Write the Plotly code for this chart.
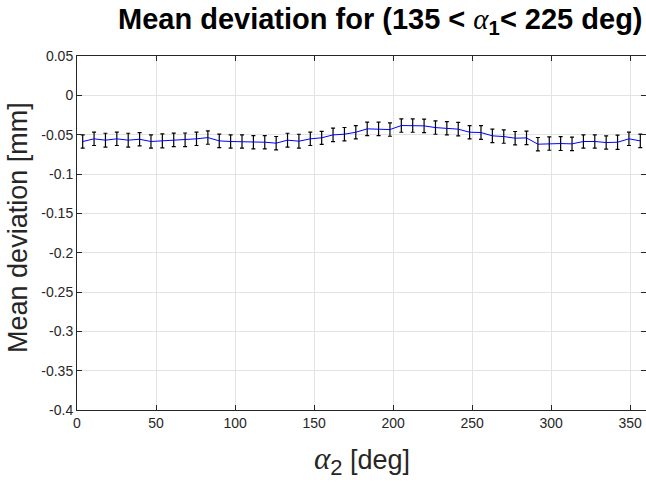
import plotly.graph_objects as go

# Bin centres of alpha_2 (deg), 7.2 deg bins
alpha2 = [3.6, 10.8, 18.0, 25.2, 32.4, 39.6, 46.8, 54.0, 61.2, 68.4,
          75.6, 82.8, 90.0, 97.2, 104.4, 111.6, 118.8, 126.0, 133.2, 140.4,
          147.6, 154.8, 162.0, 169.2, 176.4, 183.6, 190.8, 198.0, 205.2, 212.4,
          219.6, 226.8, 234.0, 241.2, 248.4, 255.6, 262.8, 270.0, 277.2, 284.4,
          291.6, 298.8, 306.0, 313.2, 320.4, 327.6, 334.8, 342.0, 349.2, 356.4]

# Mean deviation per bin (mm)
mean_dev = [-0.0587, -0.0553, -0.0570, -0.0553, -0.0570, -0.0558, -0.0587, -0.0579, -0.0566, -0.0566,
            -0.0553, -0.0537, -0.0579, -0.0587, -0.0587, -0.0596, -0.0596, -0.0608, -0.0570, -0.0583,
            -0.0553, -0.0540, -0.0503, -0.0494, -0.0469, -0.0426, -0.0426, -0.0435, -0.0384, -0.0384,
            -0.0388, -0.0410, -0.0418, -0.0430, -0.0469, -0.0473, -0.0515, -0.0524, -0.0545, -0.0541,
            -0.0621, -0.0613, -0.0613, -0.0617, -0.0587, -0.0587, -0.0600, -0.0596, -0.0553, -0.0579]

# Error bar half-length (mm)
err = [0.0085, 0.0085, 0.0088, 0.0085, 0.0088, 0.0085, 0.0085, 0.0088, 0.0085, 0.0087,
       0.0085, 0.0085, 0.0085, 0.0085, 0.0085, 0.0085, 0.0085, 0.0085, 0.0088, 0.0088,
       0.0085, 0.0083, 0.0085, 0.0085, 0.0085, 0.0085, 0.0085, 0.0085, 0.0085, 0.0085,
       0.0085, 0.0085, 0.0085, 0.0085, 0.0085, 0.0088, 0.0085, 0.0085, 0.0085, 0.0085,
       0.0085, 0.0085, 0.0088, 0.0085, 0.0085, 0.0085, 0.0085, 0.0090, 0.0085, 0.0085]

x_ticks = [0, 50, 100, 150, 200, 250, 300, 350]
y_ticks = [0.05, 0, -0.05, -0.1, -0.15, -0.2, -0.25, -0.3, -0.35, -0.4]
y_tick_text = ["0.05", "0", "-0.05", "-0.1", "-0.15", "-0.2", "-0.25", "-0.3", "-0.35", "-0.4"]

FONT = "Liberation Sans, Arial, sans-serif"
SERIF = "font-family:'Liberation Serif',serif"
AX = "#262626"

fig = go.Figure()
fig.add_trace(go.Scatter(
    x=alpha2, y=mean_dev, mode="lines",
    line=dict(color="#0000ff", width=1),
    error_y=dict(type="data", array=err, visible=True,
                 color="black", thickness=1.2, width=2),
    showlegend=False,
))

axis_common = dict(
    showline=True, linecolor=AX, linewidth=1, mirror="ticks",
    ticks="inside", ticklen=5, tickcolor=AX, tickwidth=1,
    showgrid=True, gridcolor="#e3e3e3", gridwidth=1,
    zeroline=False,
    tickfont=dict(family=FONT, size=14, color=AX),
)

fig.update_xaxes(range=[0, 360], tickvals=x_ticks,
                 ticktext=[str(v) for v in x_ticks], **axis_common)
fig.update_yaxes(range=[-0.4, 0.05], tickvals=y_ticks,
                 ticktext=y_tick_text, **axis_common)

fig.update_layout(
    width=646, height=486,
    margin=dict(l=77, r=0, t=56, b=76),
    plot_bgcolor="white", paper_bgcolor="white",
    font=dict(family=FONT, color="black"),
    title=dict(
        text=("<b>Mean deviation for (135 &lt; </b>"
              f"<span style=\"{SERIF}\"><i>α</i></span>"
              "<b><sub>1</sub>&lt; 225 deg)</b>"),
        font=dict(family=FONT, size=29, color="black"),
        x=0.533, xref="paper", xanchor="center",
        y=1 - 9 / 486, yref="container", yanchor="top",
    ),
    annotations=[
        dict(text=(f"<span style=\"{SERIF};font-size:31px\"><i>α</i></span>"
                   "<sub><span style=\"font-size:22px\">2</span></sub> [deg]"),
             x=0.5, y=-0.083, xref="paper", yref="paper",
             xanchor="center", yanchor="top", showarrow=False,
             font=dict(family=FONT, size=27, color=AX)),
        dict(text="Mean deviation [mm]",
             x=-0.105, y=0.515, xref="paper", yref="paper",
             xanchor="center", yanchor="middle", textangle=-90, showarrow=False,
             font=dict(family=FONT, size=27, color=AX)),
    ],
)

fig.write_html("out.html")
